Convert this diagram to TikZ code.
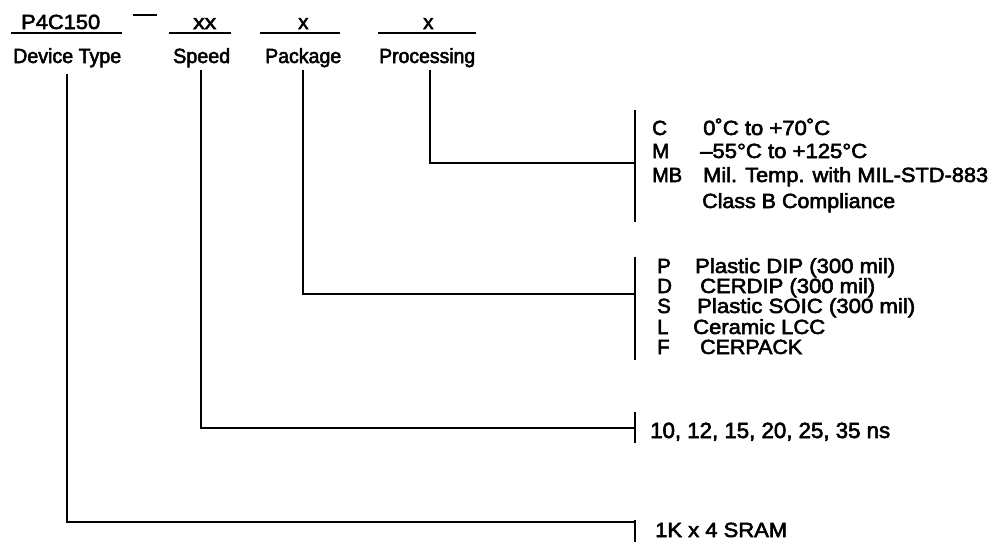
\documentclass[tikz,border=0pt]{standalone}
\usepackage{fontspec}
\setmainfont{Liberation Sans}[FakeBold=2.6]
\usepackage{graphicx}
\newcommand\fitto[2]{\resizebox{#1pt}{\height}{#2}}
\begin{document}
\begin{tikzpicture}[x=1pt,y=-1pt,
  txt/.style={anchor=base west, inner sep=0pt, font=\fontsize{20.5}{23}\selectfont},
  ln/.style={line width=1.8pt},
  rule/.style={line width=1.6pt}]
\useasboundingbox (0,0) rectangle (991,542);
% header codes
\node[txt] (code) at (21,29) {\fitto{79}{P4C150}};
\node[txt] (xx) at (193,29) {\fitto{23}{xx}};
\node[txt] (xpk) at (298,29) {x};
\node[txt] (xpr) at (423,29) {x};
\coordinate (u1a) at (11,33); \coordinate (u1b) at (122,33);
\coordinate (dsa) at (133,15); \coordinate (dsb) at (157,15);
\coordinate (u2a) at (169,33); \coordinate (u2b) at (231,33);
\coordinate (u3a) at (260,33); \coordinate (u3b) at (340,33);
\coordinate (u4a) at (378,33); \coordinate (u4b) at (476,33);
\draw[rule] (u1a) -- (u1b);
\draw[rule] (dsa) -- (dsb);
\draw[rule] (u2a) -- (u2b);
\draw[rule] (u3a) -- (u3b);
\draw[rule] (u4a) -- (u4b);
% labels
\node[txt] (ldev) at (13,63) {\fitto{108}{Device Type}};
\node[txt] (lspd) at (173,63) {\fitto{57}{Speed}};
\node[txt] (lpkg) at (265,63) {\fitto{76}{Package}};
\node[txt] (lpro) at (379,63) {\fitto{96}{Processing}};
% processing list
\node[txt] (pc) at (652,135) {C};
\node[txt] (pcd) at (703,135) {\fitto{127}{0˚C to +70˚C}};
\node[txt] (pm) at (652,158) {M};
\node[txt] (pmd) at (700,158) {\fitto{167}{–55°C to +125°C}};
\node[txt] (pmb) at (652,182) {\fitto{30}{MB}};
\node[txt] (pmbd) at (703,182) {\fitto{285}{Mil. Temp. with MIL-STD-883}};
\node[txt] (pcl) at (702,208) {\fitto{193}{Class B Compliance}};
% package list
\node[txt] (kp) at (657,273) {P};
\node[txt] (kpd) at (695,273) {\fitto{200}{Plastic DIP (300 mil)}};
\node[txt] (kd) at (657,293) {D};
\node[txt] (kdd) at (700,293) {\fitto{175}{CERDIP (300 mil)}};
\node[txt] (ks) at (657,313) {S};
\node[txt] (ksd) at (697,313) {\fitto{218}{Plastic SOIC (300 mil)}};
\node[txt] (kl) at (657,334) {L};
\node[txt] (kld) at (693,334) {\fitto{132}{Ceramic LCC}};
\node[txt] (kf) at (657,354) {F};
\node[txt] (kfd) at (700,354) {\fitto{102}{CERPACK}};
% speed & device
\node[txt, font=\fontsize{22}{24}\selectfont] (spd) at (650,438) {\fitto{240}{10, 12, 15, 20, 25, 35 ns}};
\node[txt] (dev) at (655,537) {\fitto{132}{1K x 4 SRAM}};
% brackets
\coordinate (bpt) at (635,110); \coordinate (bpb) at (635,222);
\coordinate (bkt) at (635,257); \coordinate (bkb) at (635,360);
\coordinate (bst) at (635,412); \coordinate (bsb) at (635,443);
\coordinate (bdt) at (635,520); \coordinate (bdb) at (635,542);
\draw[ln] (bpt) -- (bpb);
\draw[ln] (bkt) -- (bkb);
\draw[ln] (bst) -- (bsb);
\draw[ln] (bdt) -- (bdb);
% connectors
\coordinate (cpro) at (430,70); \coordinate (cpkg) at (303,70);
\coordinate (cspd) at (201,70); \coordinate (cdev) at (67,74);
\draw[ln] (cpro) |- (bpt |- 0,163);
\draw[ln] (cpkg) |- (bkt |- 0,294);
\draw[ln] (cspd) |- (bst |- 0,428);
\draw[ln] (cdev) |- (bdt |- 0,522);
\end{tikzpicture}
\end{document}
